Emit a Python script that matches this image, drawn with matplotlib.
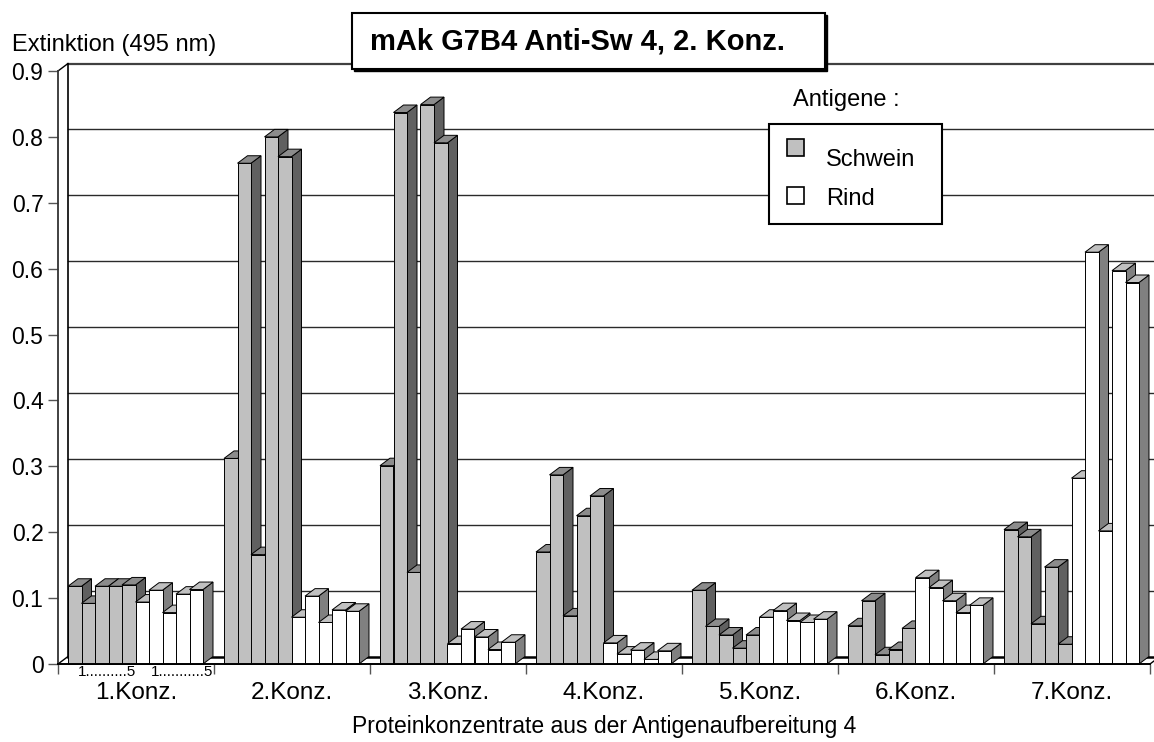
import numpy as np
import matplotlib
matplotlib.use('Agg')
import matplotlib.pyplot as plt
from matplotlib.patches import Polygon, Rectangle

plt.rcParams['font.family'] = ['Liberation Sans', 'DejaVu Sans']

# values
categories = ['1.Konz.', '2.Konz.', '3.Konz.', '4.Konz.', '5.Konz.', '6.Konz.', '7.Konz.']
schwein = [
    [0.118, 0.092, 0.118, 0.118, 0.120],
    [0.312, 0.760, 0.166, 0.800, 0.770],
    [0.301, 0.837, 0.139, 0.849, 0.791],
    [0.170, 0.287, 0.073, 0.225, 0.255],
    [0.112, 0.057, 0.044, 0.024, 0.044],
    [0.058, 0.096, 0.014, 0.022, 0.054],
    [0.204, 0.193, 0.061, 0.147, 0.030],
]
rind = [
    [0.094, 0.112, 0.078, 0.106, 0.113],
    [0.071, 0.103, 0.063, 0.082, 0.080],
    [0.031, 0.053, 0.041, 0.022, 0.033],
    [0.032, 0.015, 0.021, 0.007, 0.020],
    [0.071, 0.081, 0.066, 0.063, 0.068],
    [0.131, 0.116, 0.096, 0.078, 0.089],
    [0.282, 0.625, 0.202, 0.597, 0.579],
]
yticks = [0, 0.1, 0.2, 0.3, 0.4, 0.5, 0.6, 0.7, 0.8, 0.9]
ytick_labels = ['0', '0.1', '0.2', '0.3', '0.4', '0.5', '0.6', '0.7', '0.8', '0.9']

W, H = 1154, 742
fig = plt.figure(figsize=(W / 100, H / 100), dpi=100)
ax = fig.add_axes([58 / W, 1 - 664 / H, 1092 / W, 593 / H])
ax.set_xlim(0, 7)
ax.set_ylim(0, 0.9)

# 3d look: depth offset in data units
dx = 10 / 156
dy = 7.5 * 0.9 / 593
bw = 13.5 / 156
off = 10 / 156

styles = {
    'schwein': ('#c0c0c0', '#8c8c8c', '#606060'),
    'rind': ('#ffffff', '#c0c0c0', '#808080'),
}

# back wall gridlines
for v in yticks[1:-1]:
    ax.plot([dx, 7 + dx], [v + dy, v + dy], color='#2a2a2a', lw=1.0,
            zorder=1, clip_on=False)
ax.plot([dx, 7 + dx], [0.9 + dy, 0.9 + dy], color='#404040', lw=1.6,
        zorder=1, clip_on=False)
ax.plot([dx, 7 + dx], [dy, dy], color='black', lw=1.8, zorder=1, clip_on=False)
ax.plot([dx, dx], [dy, 0.9 + dy], color='black', lw=1.2, zorder=1, clip_on=False)
ax.plot([0, dx], [0.9, 0.9 + dy], color='black', lw=1.0, zorder=1, clip_on=False)
ax.plot([0, dx], [0, dy], color='black', lw=1.0, zorder=1, clip_on=False)
ax.plot([7, 7 + dx], [0, dy], color='black', lw=1.0, zorder=1, clip_on=False)


def bar3d(x0, v, kind, z):
    front, top, side = styles[kind]
    x1 = x0 + bw
    ax.add_patch(Polygon([(x1, 0), (x1 + dx, dy), (x1 + dx, v + dy), (x1, v)],
                         closed=True, fc=side, ec='black', lw=0.7, zorder=z, clip_on=False))
    ax.add_patch(Polygon([(x0, v), (x1, v), (x1 + dx, v + dy), (x0 + dx, v + dy)],
                         closed=True, fc=top, ec='black', lw=0.7, zorder=z, clip_on=False))
    ax.add_patch(Rectangle((x0, 0), bw, v, fc=front, ec='black', lw=0.7,
                           zorder=z, clip_on=False))


z = 2
for g in range(len(categories)):
    vals = [(v, 'schwein') for v in schwein[g]] + [(v, 'rind') for v in rind[g]]
    for i, (v, kind) in enumerate(vals):
        bar3d(g + off + i * bw, v, kind, z)
        z += 0.01

# axes
for s in ['top', 'right']:
    ax.spines[s].set_visible(False)
ax.spines['left'].set_color('#333333')
ax.spines['left'].set_linewidth(1.3)
ax.spines['bottom'].set_color('black')
ax.spines['bottom'].set_linewidth(1.4)
ax.spines['bottom'].set_zorder(5)

ax.set_yticks(yticks)
ax.set_yticklabels(ytick_labels)
ax.tick_params(axis='y', direction='out', length=7, width=1, color='#555555',
               pad=3.5, labelsize=16.5)

centers = np.arange(len(categories)) + 0.5
ax.set_xticks(centers)
ax.set_xticklabels(categories)
ax.set_xticks(np.arange(len(categories) + 1), minor=True)
ax.tick_params(axis='x', which='major', length=0, pad=13, labelsize=17.5)
ax.tick_params(axis='x', which='minor', direction='out', length=7, width=1,
               color='#555555')

ax.set_xlabel('Proteinkonzentrate aus der Antigenaufbereitung 4', fontsize=16.5,
              labelpad=8)
ax.set_ylabel('Extinktion (495 nm)', fontsize=17, rotation=0, ha='left', va='center')
ax.yaxis.set_label_coords(-0.042, 1.044)

# bar numbering under the first group
trans = ax.get_xaxis_transform()
for k, txt in enumerate(['1..........5', '1...........5']):
    xc = off + (k * 5 + 2) * bw + bw / 2 + dx / 2 + k * 0.05
    ax.text(xc, -0.0135, txt, transform=trans, ha='center', va='center',
            fontsize=11)

# title box
tx = lambda x: x / W
ty = lambda y: 1 - y / H
fig.patches.append(Rectangle((tx(354), ty(71)), tx(825) - tx(352), ty(13) - ty(69),
                             transform=fig.transFigure, fc='black', ec='black', zorder=9))
fig.patches.append(Rectangle((tx(352), ty(69)), tx(825) - tx(352), ty(13) - ty(69),
                             transform=fig.transFigure, fc='white', ec='black', lw=1.5,
                             zorder=10))
fig.text(tx(578), ty(41), 'mAk G7B4 Anti-Sw 4, 2. Konz.', fontsize=21, fontweight='bold',
         ha='center', va='center', zorder=11)

# legend
fig.text(tx(793), ty(100), 'Antigene :', fontsize=17, ha='left', va='center')
fig.patches.append(Rectangle((tx(769), ty(224)), tx(942) - tx(769), ty(124) - ty(224),
                             transform=fig.transFigure, fc='white', ec='black', lw=1.5,
                             zorder=10))
for (y_sq, y_txt, label, kind) in [(147, 160, 'Schwein', 'schwein'), (195, 199, 'Rind', 'rind')]:
    fig.patches.append(Rectangle((tx(787), ty(y_sq + 8.5)), tx(17), 17 / H,
                                 transform=fig.transFigure, fc=styles[kind][0], ec='black',
                                 lw=1.2, zorder=11))
    fig.text(tx(826), ty(y_txt), label, fontsize=17, ha='left', va='center', zorder=12)

fig.savefig('out.png', dpi=100)
